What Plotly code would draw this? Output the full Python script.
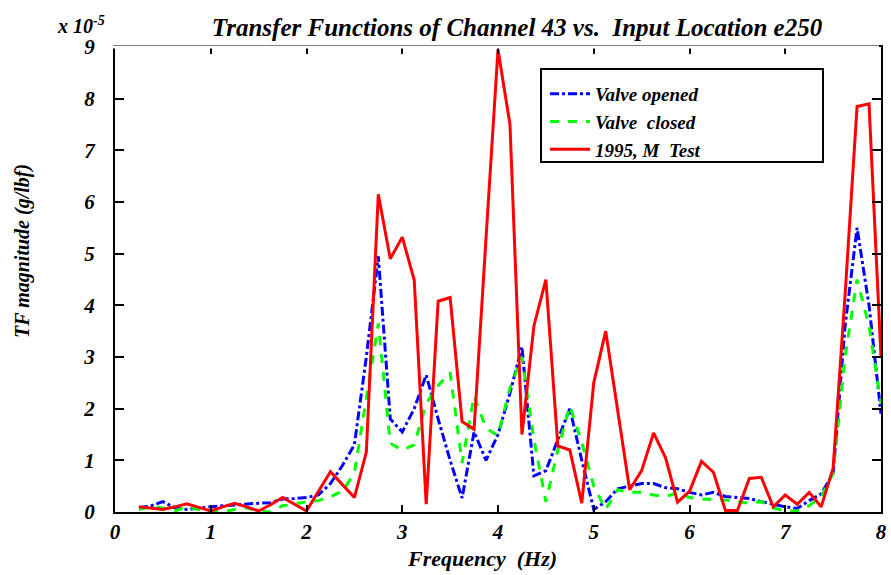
import plotly.graph_objects as go

# Frequency grid (Hz), 0.125 Hz steps
freq = [0.25 + 0.125 * i for i in range(63)]

# Transfer function magnitudes, units of 1e-5 g/lbf
valve_opened = [0.08, 0.12, 0.2, 0.08, 0.05, 0.08, 0.1, 0.12, 0.14, 0.16, 0.17, 0.18, 0.25, 0.26, 0.28, 0.33,
                0.55, 0.9, 1.3, 3.0, 4.95, 1.8, 1.55, 2.0, 2.65, 1.8, 1.0, 0.27, 1.55, 1.0, 1.5, 2.3,
                3.2, 0.7, 0.8, 1.4, 2.0, 1.0, 0.05, 0.2, 0.45, 0.5, 0.55, 0.55, 0.47, 0.45, 0.38, 0.33,
                0.38, 0.3, 0.28, 0.26, 0.2, 0.15, 0.1, 0.07, 0.22, 0.35, 0.75, 3.6, 5.5, 4.0, 1.9]
valve_closed = [0.05, 0.1, 0.08, 0.02, 0.1, 0.05, 0.02, 0.0, 0.05, 0.08, 0.02, 0.0, 0.12, 0.15, 0.2, 0.22,
                0.3, 0.4, 0.75, 2.2, 3.65, 1.33, 1.2, 1.3, 2.1, 2.45, 2.7, 0.95, 2.25, 1.62, 1.48, 2.4,
                3.0, 1.4, 0.2, 1.2, 2.05, 1.35, 0.5, 0.05, 0.43, 0.38, 0.38, 0.33, 0.3, 0.37, 0.28, 0.25,
                0.24, 0.23, 0.2, 0.17, 0.2, 0.08, 0.02, 0.02, 0.12, 0.3, 0.75, 3.0, 4.5, 3.6, 2.1]
m_test_1995 = [0.1, 0.08, 0.05, 0.1, 0.16, 0.09, 0.02, 0.1, 0.17, 0.1, 0.02, 0.14, 0.28, 0.15, 0.02, 0.4,
               0.78, 0.53, 0.28, 1.16, 6.15, 4.9, 5.32, 4.49, 0.15, 4.08, 4.15, 1.75, 1.6, 5.3, 8.95, 7.5,
               1.5, 3.6, 4.5, 1.28, 1.2, 0.17, 2.5, 3.5, 1.95, 0.43, 0.8, 1.53, 1.05, 0.19, 0.4, 0.98,
               0.77, 0.03, 0.03, 0.65, 0.67, 0.1, 0.33, 0.15, 0.38, 0.1, 0.85, 4.2, 7.85, 7.9, 3.0]

x_ticks = [0, 1, 2, 3, 4, 5, 6, 7, 8]
y_ticks = [0, 1, 2, 3, 4, 5, 6, 7, 8, 9]

serif = "Liberation Serif"
bi = dict(family=serif, color="black", style="italic", weight="bold")

fig = go.Figure()
fig.add_trace(go.Scatter(x=freq, y=valve_opened, mode="lines", name="Valve opened",
                         line=dict(color="#0000ff", width=3, dash="dashdot")))
fig.add_trace(go.Scatter(x=freq, y=valve_closed, mode="lines", name="Valve  closed",
                         line=dict(color="#00ff00", width=3, dash="dash")))
fig.add_trace(go.Scatter(x=freq, y=m_test_1995, mode="lines", name="1995, M  Test",
                         line=dict(color="#ff0000", width=3)))

W, H = 891, 575
ml, mr, mt, mb = 115, 10, 47, 63
pw, ph = W - ml - mr, H - mt - mb

def px_x(p):
    return (p - ml) / pw

def px_y(p):
    return (H - mb - p) / ph

fig.update_layout(
    width=W, height=H,
    margin=dict(l=ml, r=mr, t=mt, b=mb, autoexpand=False),
    paper_bgcolor="white", plot_bgcolor="white",
    showlegend=True,
    title=dict(text="Transfer Functions of Channel 43 vs.  Input Location e250",
               font=dict(size=25, **bi), x=517 / W, xanchor="center", y=0.953, yanchor="middle"),
    xaxis=dict(range=[0, 8], tickvals=x_ticks, ticktext=[str(v) for v in x_ticks],
               automargin=False,
               showgrid=False, zeroline=False, showline=True, linecolor="black", linewidth=2,
               mirror="ticks", ticks="inside", ticklen=7, tickwidth=2, tickcolor="black",
               tickfont=dict(size=21, **bi)),
    yaxis=dict(range=[0, 9], tickvals=y_ticks, ticktext=[str(v) for v in y_ticks],
               automargin=False,
               showgrid=False, zeroline=False, showline=True, linecolor="black", linewidth=2,
               mirror="ticks", ticks="inside", ticklen=9, tickwidth=2, tickcolor="black",
               tickfont=dict(size=21, **bi), ticklabelstandoff=14),
    legend=dict(x=px_x(545), y=px_y(75), xanchor="left", yanchor="top",
                bgcolor="rgba(0,0,0,0)", borderwidth=0,
                font=dict(size=19, **bi), tracegroupgap=0, itemwidth=40),
    shapes=[
        # legend frame
        dict(type="rect", xref="paper", yref="paper",
             x0=px_x(541), x1=px_x(823), y0=px_y(162), y1=px_y(69),
             line=dict(color="black", width=2), fillcolor="white", layer="below"),
        # top edge left open, only its tick marks remain
        dict(type="line", xref="paper", yref="paper", x0=px_x(113), x1=px_x(879),
             y0=1, y1=1, line=dict(color="white", width=3), layer="above"),
    ],
    annotations=[
        dict(text="x 10<sup>-5</sup>", xref="paper", yref="paper",
             x=px_x(55), y=px_y(25), xanchor="left", yanchor="middle",
             showarrow=False, font=dict(size=20, **bi)),
        # axis titles
        dict(text="Frequency  (Hz)", xref="paper", yref="paper",
             x=px_x(482), y=px_y(558), xanchor="center", yanchor="middle",
             showarrow=False, font=dict(size=22, **bi)),
        dict(text="TF magnitude (g/lbf)", xref="paper", yref="paper", textangle=-90,
             x=px_x(22), y=px_y(251), xanchor="center", yanchor="middle",
             showarrow=False, font=dict(size=20, **bi)),
    ],
)

fig.write_html("out.html")
